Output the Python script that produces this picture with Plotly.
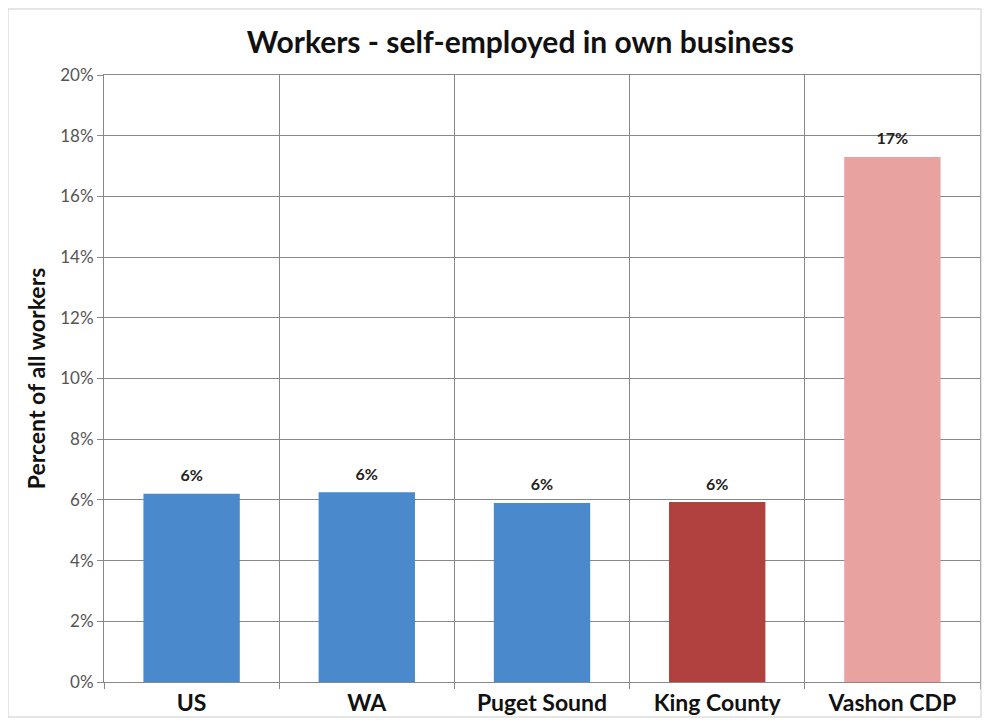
import plotly.graph_objects as go

categories = ["US", "WA", "Puget Sound", "King County", "Vashon CDP"]
values = [6.2, 6.25, 5.9, 5.93, 17.3]
labels = ["6%", "6%", "6%", "6%", "17%"]
colors = ["#4a89cc", "#4a89cc", "#4a89cc", "#b0413e", "#e8a3a1"]
yticks = [0, 2, 4, 6, 8, 10, 12, 14, 16, 18, 20]
yticklabels = [f"{v}%" for v in yticks]

FONT = "Lato"

fig = go.Figure(go.Bar(
    x=categories, y=values, marker=dict(color=colors, line=dict(width=0)),
    showlegend=False,
))
fig.add_trace(go.Scatter(
    x=categories, y=values, mode="markers+text",
    marker=dict(size=12, opacity=0),
    text=[f"<b>{t}</b>" for t in labels], textposition="top center",
    textfont=dict(family=FONT, size=16, color="#222"),
    cliponaxis=False, showlegend=False, hoverinfo="skip",
))

W, H = 974, 710
L, R, T, B = 96, 2, 67, 36
pw, ph = W - L - R, H - T - B

fig.update_layout(
    width=W, height=H,
    margin=dict(l=L, r=R, t=T, b=B),
    paper_bgcolor="white", plot_bgcolor="white",
    title=dict(text="<b>Workers - self-employed in own business</b>", x=0.526, xanchor="center",
               y=1 - 34 / H, yanchor="middle",
               font=dict(family=FONT, size=30, color="#111")),
    bargap=0.45,
    showlegend=False,
    font=dict(family=FONT),
)
fig.update_yaxes(
    range=[0, 20], tickvals=yticks, ticktext=yticklabels,
    showgrid=True, gridcolor="#888", gridwidth=1,
    ticks="outside", ticklen=6, tickcolor="#888",
    tickfont=dict(size=17, color="#555", family=FONT),
    showline=True, linecolor="#888", mirror=True,
    title=dict(text="<b>Percent of all workers</b>", font=dict(size=23, color="#111", family=FONT), standoff=8),
    zeroline=False,
)
fig.update_xaxes(
    tickson="boundaries", showgrid=True, gridcolor="#888", gridwidth=1,
    ticks="outside", ticklen=6, tickcolor="#888",
    tickfont=dict(size=23, color="#111", family=FONT),
    showline=True, linecolor="#888", mirror=True,
    tickvals=categories, ticktext=[f"<b>{c}</b>" for c in categories],
)
fig.add_shape(type="rect", xref="paper", yref="paper",
              x0=-L / pw, x1=1 + (R - 1) / pw, y0=-(B - 1) / ph, y1=1 + (T - 1) / ph,
              line=dict(color="#ccc", width=1))

fig.write_html("out.html")
